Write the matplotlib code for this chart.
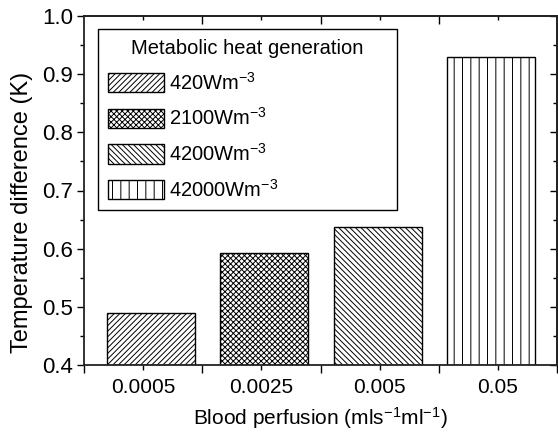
import numpy as np
import matplotlib
matplotlib.use("Agg")
import matplotlib.pyplot as plt
from matplotlib.ticker import MultipleLocator, FixedLocator, FormatStrFormatter

plt.rcParams['font.family'] = ['Liberation Sans', 'DejaVu Sans']
plt.rcParams['mathtext.fontset'] = 'custom'
plt.rcParams['mathtext.rm'] = 'Liberation Sans'
plt.rcParams['mathtext.it'] = 'Liberation Sans'
plt.rcParams['hatch.linewidth'] = 0.7

perfusion = ["0.0005", "0.0025", "0.005", "0.05"]
heat_gen = [r"420Wm$^{\mathregular{-3}}$", r"2100Wm$^{\mathregular{-3}}$",
            r"4200Wm$^{\mathregular{-3}}$", r"42000Wm$^{\mathregular{-3}}$"]
temp_diff = [0.49, 0.593, 0.638, 0.93]
hatches = ["//////", "xxxxxx", "\\\\\\\\\\\\", "||"]

fig = plt.figure(figsize=(5.58, 4.32), dpi=100)
ax = fig.add_axes([84/558, 1 - 365/432, 473/558, 349/432])

# bars sit slightly off the category ticks, with a touch less spacing
cats = np.arange(1, len(perfusion) + 1)
pos = 1.067 + 0.958 * np.arange(len(perfusion))
for p, v, h, lab in zip(pos, temp_diff, hatches, heat_gen):
    ax.bar(p, v - 0.4, bottom=0.4, width=0.744, color="white",
           edgecolor="black", linewidth=1.0, hatch=h, label=lab)

ax.set_xlim(0.5, 4.5)
ax.set_ylim(0.4, 1.0)
ax.set_xticks(cats)
ax.set_xticklabels(perfusion)
ax.xaxis.set_minor_locator(FixedLocator([0.5, 1.5, 2.5, 3.5, 4.5]))
ax.yaxis.set_major_locator(MultipleLocator(0.1))
ax.yaxis.set_minor_locator(MultipleLocator(0.05))
ax.yaxis.set_major_formatter(FormatStrFormatter("%.1f"))

ax.tick_params(axis="x", which="major", direction="out", length=3.5, width=1,
               labelsize=15, top=False, pad=6)
ax.tick_params(axis="x", which="minor", direction="out", length=5.5, width=1, top=False)
ax.tick_params(axis="y", which="major", direction="out", length=5, width=1,
               labelsize=16, right=False, pad=3)
ax.tick_params(axis="y", which="minor", direction="out", length=3, width=1, right=False)

# inward ticks on the top and right spines
sec_x = ax.secondary_xaxis("top")
sec_x.set_xticks(cats)
sec_x.xaxis.set_minor_locator(FixedLocator([1.5, 2.5, 3.5]))
sec_x.tick_params(which="major", direction="in", length=3, width=1, labeltop=False)
sec_x.tick_params(which="minor", direction="in", length=5.5, width=1)
sec_y = ax.secondary_yaxis("right")
sec_y.yaxis.set_major_locator(MultipleLocator(0.1))
sec_y.yaxis.set_minor_locator(MultipleLocator(0.05))
sec_y.tick_params(which="major", direction="in", length=5, width=1, labelright=False)
sec_y.tick_params(which="minor", direction="in", length=3, width=1)
for s in list(ax.spines.values()) + [sec_x.spines["top"], sec_y.spines["right"]]:
    s.set_linewidth(1.3)
    s.set_color("#222222")

ax.set_xlabel(r"Blood perfusion (mls$^{\mathregular{-1}}$ml$^{\mathregular{-1}}$)",
              fontsize=15, labelpad=6)
ax.set_ylabel("Temperature difference (K)", fontsize=17)
ax.yaxis.set_label_coords(-0.108, 0.437)

leg = ax.legend(title="Metabolic heat generation", loc="upper left",
                bbox_to_anchor=(0.0296, 0.456, 0.632, 0.507), mode="expand",
                fontsize=14.5, title_fontsize=14.5, frameon=True, fancybox=False,
                edgecolor="black", handlelength=2.8, handleheight=1.1,
                labelspacing=0.68, handletextpad=0.25, borderaxespad=0,
                borderpad=0.5, framealpha=1)
leg.get_frame().set_linewidth(1.0)

fig.savefig("out.png", dpi=100)
